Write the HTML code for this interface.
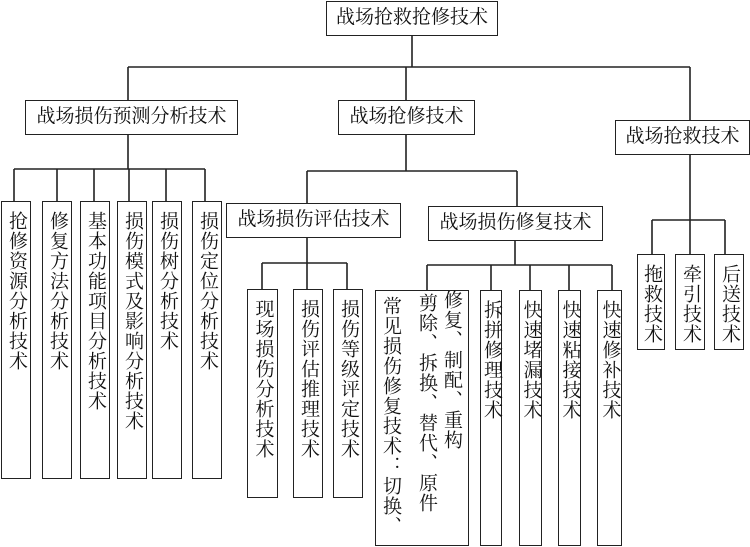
<!DOCTYPE html>
<html lang="zh-CN"><head><meta charset="utf-8"><style>
body{margin:0;width:750px;height:547px;background:#fff;position:relative;overflow:hidden;font-family:"Liberation Serif","Noto Serif CJK SC","Noto Sans CJK SC",serif;color:#111}
.b{position:absolute;border:1.5px solid #222;box-sizing:border-box;background:#fff}
.h{font-size:19px;line-height:32px;text-align:center;white-space:nowrap}
.v{display:flex;justify-content:center;align-items:flex-start;padding-top:9px}
.v span{writing-mode:vertical-rl;font-size:19px;line-height:20px;letter-spacing:1px;white-space:nowrap}
.c{position:absolute;writing-mode:vertical-rl;font-size:19px;line-height:22px;letter-spacing:1px;white-space:nowrap}
svg{position:absolute;left:0;top:0}
</style></head><body>
<svg width="750" height="547"><g stroke="#222" stroke-width="1.6" fill="none">
<path d="M412 36V67M128 67H690M128 67V100M406 67V100M690 67V120"/>
<path d="M128 135V169M14 169H205M14 169V201M57 169V201M94 169V201M129 169V201M166 169V201M205 169V201"/>
<path d="M406 135V171M307 171H517M307 171V203M517 171V206"/>
<path d="M307 238V263M262 263H347M262 263V289M307 263V289M347 263V289"/>
<path d="M515 241V265M427 265H612M427 265V290M491 265V290M530 265V290M569 265V290M612 265V290"/>
<path d="M690 155V220M652 220H725M652 220V254M690 220V254M725 220V254"/>
</g></svg>
<div class="b h" style="left:326px;top:1px;width:172px;height:35px">战场抢救抢修技术</div>
<div class="b h" style="left:25px;top:100px;width:213px;height:35px">战场损伤预测分析技术</div>
<div class="b h" style="left:338px;top:100px;width:137px;height:35px">战场抢修技术</div>
<div class="b h" style="left:615px;top:120px;width:135px;height:35px">战场抢救技术</div>
<div class="b h" style="left:226px;top:203px;width:175px;height:35px">战场损伤评估技术</div>
<div class="b h" style="left:428px;top:206px;width:175px;height:35px">战场损伤修复技术</div>

<div class="b v" style="left:1px;top:201px;width:30px;height:278px"><span>抢修资源分析技术</span></div>
<div class="b v" style="left:42px;top:201px;width:30px;height:278px"><span>修复方法分析技术</span></div>
<div class="b v" style="left:80px;top:201px;width:30px;height:278px"><span>基本功能项目分析技术</span></div>
<div class="b v" style="left:117px;top:201px;width:30px;height:278px"><span>损伤模式及影响分析技术</span></div>
<div class="b v" style="left:152px;top:201px;width:30px;height:278px"><span>损伤树分析技术</span></div>
<div class="b v" style="left:192px;top:201px;width:30px;height:278px"><span>损伤定位分析技术</span></div>

<div class="b v" style="left:247px;top:289px;width:31px;height:209px"><span>现场损伤分析技术</span></div>
<div class="b v" style="left:293px;top:289px;width:30px;height:209px"><span>损伤评估推理技术</span></div>
<div class="b v" style="left:333px;top:289px;width:30px;height:209px"><span>损伤等级评定技术</span></div>

<div class="b" style="left:375px;top:290px;width:94px;height:256px"></div>
<div class="c" style="left:377px;top:296px;width:24px">常见损伤修复技术：切换、</div>
<div class="c" style="left:413px;top:293px;width:24px">剪除、拆换、替代、原件</div>
<div class="c" style="left:438px;top:290px;width:24px">修复、制配、重构</div>
<div class="b v" style="left:480px;top:290px;width:22px;height:256px"><span>拆拼修理技术</span></div>
<div class="b v" style="left:519px;top:290px;width:23px;height:256px"><span>快速堵漏技术</span></div>
<div class="b v" style="left:558px;top:290px;width:23px;height:256px"><span>快速粘接技术</span></div>
<div class="b v" style="left:597px;top:290px;width:25px;height:256px"><span>快速修补技术</span></div>

<div class="b v" style="left:637px;top:254px;width:28px;height:96px"><span>拖救技术</span></div>
<div class="b v" style="left:675px;top:254px;width:30px;height:96px"><span>牵引技术</span></div>
<div class="b v" style="left:714px;top:254px;width:30px;height:96px"><span>后送技术</span></div>
</body></html>
